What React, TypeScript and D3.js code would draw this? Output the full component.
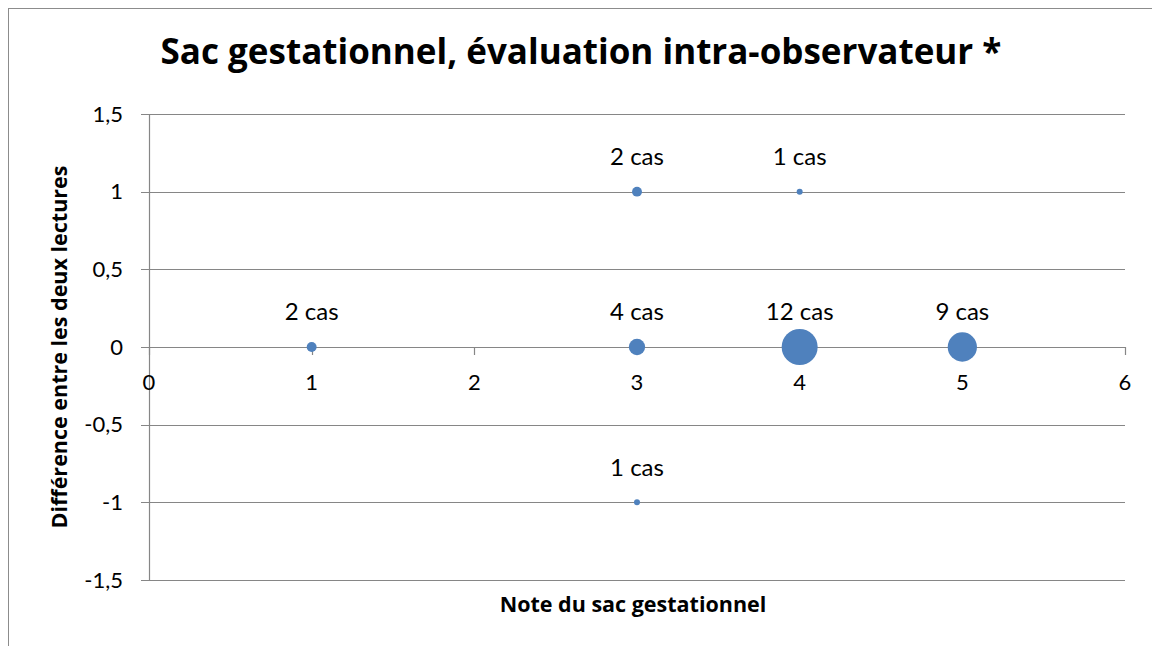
import React from "react";
import * as d3 from "d3";

const notes = [1, 3, 3, 3, 4, 4, 5];
const differences = [0, 1, 0, -1, 1, 0, 0];
const cases = [2, 2, 4, 1, 1, 12, 9];
const caseLabels = ["2 cas", "2 cas", "4 cas", "1 cas", "1 cas", "12 cas", "9 cas"];
const xTicks = [0, 1, 2, 3, 4, 5, 6];
const yTicks = [-1.5, -1, -0.5, 0, 0.5, 1, 1.5];
const title = "Sac gestationnel, évaluation intra-observateur *";
const xTitle = "Note du sac gestationnel";
const yTitle = "Différence entre les deux lectures";

const W = 1152;
const H = 646;
const M = { left: 149, right: 1125, top: 114, bottom: 580 };
const FONT = "Lato, 'Open Sans', sans-serif";
const BOLD_FONT = "'Open Sans', Lato, sans-serif";
const GRID = "#868686";
const BUBBLE = "#4F81BD";

const fmt = (v: number) => String(v).replace(".", ",");

export default function App() {
  const x = d3.scaleLinear().domain([0, 6]).range([M.left, M.right]);
  const y = d3.scaleLinear().domain([-1.5, 1.5]).range([M.bottom, M.top]);
  const r = d3.scalePow().exponent(0.72).domain([0, 12]).range([0, 18]);
  const y0 = y(0);

  const points = notes.map((n, i) => ({
    n,
    d: differences[i],
    c: cases[i],
    label: caseLabels[i],
  }));

  return (
    <svg
      width={W}
      height={H}
      style={{ position: "absolute", left: 0, top: 0, background: "#fff" }}
      fontFamily={FONT}
    >
      <rect x={0} y={0} width={W} height={H} fill="#fff" />
      <line x1={8} y1={8.5} x2={W} y2={8.5} stroke="#8c8c8c" strokeWidth={1} />
      <line x1={8.5} y1={8} x2={8.5} y2={H} stroke="#8c8c8c" strokeWidth={1} />

      <text
        x={581}
        y={64}
        textAnchor="middle"
        fontFamily={BOLD_FONT}
        fontSize={35}
        fontWeight={700}
        fill="#000"
      >
        {title}
      </text>

      {yTicks.map((t) => (
        <g key={"y" + t}>
          <line
            x1={M.left - 8}
            x2={M.right}
            y1={Math.round(y(t)) + 0.5}
            y2={Math.round(y(t)) + 0.5}
            stroke={GRID}
            strokeWidth={1.2}
          />
          <text
            x={M.left - 26}
            y={y(t)}
            dy="0.35em"
            textAnchor="end"
            fontSize={22}
            fill="#000"
          >
            {fmt(t)}
          </text>
        </g>
      ))}

      <line
        x1={M.left + 0.5}
        x2={M.left + 0.5}
        y1={M.top}
        y2={M.bottom}
        stroke={GRID}
        strokeWidth={1.2}
      />

      {xTicks.map((t) => (
        <g key={"x" + t}>
          <line
            x1={Math.round(x(t)) + 0.5}
            x2={Math.round(x(t)) + 0.5}
            y1={y0}
            y2={y0 + 8}
            stroke={GRID}
            strokeWidth={1.2}
          />
          <text x={x(t)} y={y0 + 35} dy="0.35em" textAnchor="middle" fontSize={22} fill="#000">
            {fmt(t)}
          </text>
        </g>
      ))}

      {points.map((p, i) => (
        <circle key={"c" + i} cx={x(p.n)} cy={y(p.d)} r={r(p.c)} fill={BUBBLE} />
      ))}

      {points.map((p, i) => (
        <text
          key={"l" + i}
          x={x(p.n)}
          y={y(p.d) - 35}
          dy="0.35em"
          textAnchor="middle"
          fontSize={24}
          fill="#000"
        >
          {p.label}
        </text>
      ))}

      <text
        x={633}
        y={604}
        dy="0.35em"
        textAnchor="middle"
        fontFamily={BOLD_FONT}
        fontSize={21.5}
        fontWeight={700}
        fill="#000"
      >
        {xTitle}
      </text>
      <text
        transform={`translate(59, ${y0}) rotate(-90)`}
        dy="0.35em"
        textAnchor="middle"
        fontFamily={BOLD_FONT}
        fontSize={21.5}
        fontWeight={700}
        fill="#000"
      >
        {yTitle}
      </text>
    </svg>
  );
}
